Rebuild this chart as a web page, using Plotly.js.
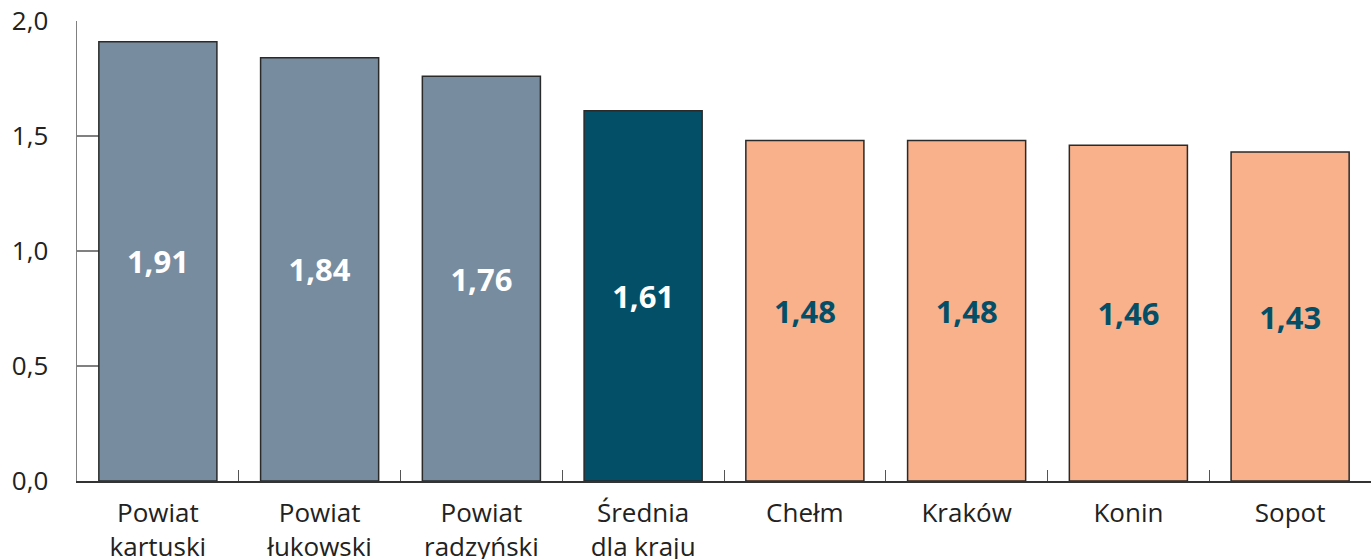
<!DOCTYPE html>
<html>
<head>
<meta charset="utf-8">
<script src="https://cdn.plot.ly/plotly-3.0.1.min.js"></script>
<style>
  html, body { margin: 0; padding: 0; background: #fff; }
  #chart { width: 1371px; height: 559px; }
</style>
</head>
<body>
<div id="chart"></div>
<script>
// dane z wykresu
const categories = [
  "Powiat<br>kartuski",
  "Powiat<br>łukowski",
  "Powiat<br>radzyński",
  "Średnia<br>dla kraju",
  "Chełm",
  "Kraków",
  "Konin",
  "Sopot"
];
const values = [1.91, 1.84, 1.76, 1.61, 1.48, 1.48, 1.46, 1.43];
const barColors = ["#778c9f", "#778c9f", "#778c9f", "#034f68", "#f8b18b", "#f8b18b", "#f8b18b", "#f8b18b"];
const labelColors = ["#ffffff", "#ffffff", "#ffffff", "#ffffff", "#034f68", "#034f68", "#034f68", "#034f68"];
const yTicks = [0, 0.5, 1, 1.5, 2];

const data = [
  {
    type: "bar",
    x: categories,
    y: values,
    marker: {
      color: barColors,
      line: { color: "#2a2a2a", width: 1.5 }
    },
    text: values.map((v) => v.toFixed(2).replace(".", ",")),
    textposition: "inside",
    insidetextanchor: "middle",
    textangle: 0,
    textfont: { family: "Open Sans", size: 31, color: labelColors, weight: "bold" },
    hoverinfo: "none"
  }
];

const layout = {
  width: 1371,
  height: 559,
  margin: { l: 77, r: 0, t: 21, b: 78 },
  paper_bgcolor: "#ffffff",
  plot_bgcolor: "#ffffff",
  showlegend: false,
  bargap: 0.27,
  separators: ", ",
  font: { family: "Open Sans", size: 26, color: "#222222" },
  xaxis: {
    type: "category",
    showline: true,
    linecolor: "#333333",
    linewidth: 1.5,
    ticks: "inside",
    tickson: "boundaries",
    ticklen: 11,
    tickcolor: "#555555",
    tickwidth: 1,
    showgrid: false,
    zeroline: false,
    layer: "below traces",
    ticklabelstandoff: 8,
    tickfont: { family: "Open Sans", size: 26, color: "#222222" },
    fixedrange: true
  },
  yaxis: {
    range: [0, 2],
    tickvals: yTicks,
    ticktext: yTicks.map((v) => v.toFixed(1).replace(".", ",")),
    showline: true,
    linecolor: "#808080",
    linewidth: 1.5,
    ticks: "inside",
    ticklen: 33,
    tickcolor: "#808080",
    tickwidth: 1.5,
    showgrid: false,
    zeroline: false,
    layer: "below traces",
    ticklabelstandoff: 22,
    tickfont: { family: "Open Sans", size: 26, color: "#222222" },
    fixedrange: true
  }
};

Plotly.newPlot("chart", data, layout, { displayModeBar: false, staticPlot: true });
</script>
</body>
</html>
